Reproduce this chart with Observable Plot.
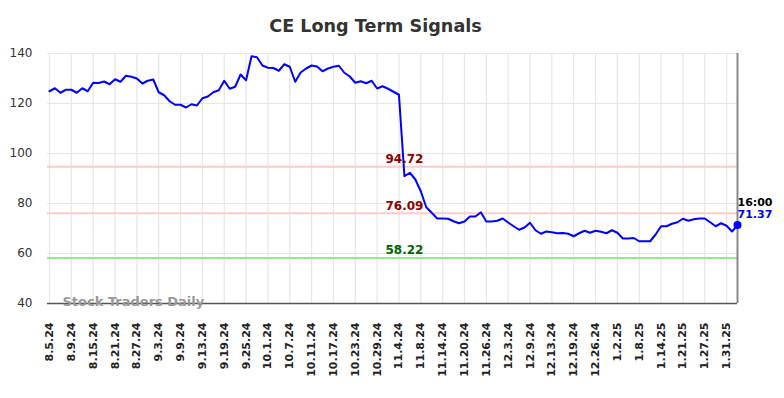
<!DOCTYPE html>
<html><head><meta charset="utf-8">
<script src="https://cdn.jsdelivr.net/npm/d3@7"></script>
<script src="https://cdn.jsdelivr.net/npm/@observablehq/plot@0.6"></script>
<style>body{margin:0;background:#fff;font-family:"DejaVu Sans",sans-serif;}</style>
</head><body><div id="chart"></div>
<script>
const title = "CE Long Term Signals";
const watermark = "Stock Traders Daily";
const lastTime = "16:00";
const lastLabel = "71.37";
const values = [
  124.9,126.1,124.3,125.5,125.5,124.3,126.1,124.9,128.3,128.2,128.8,127.7,129.7,128.7,131.1,130.7,130.0,128.0,129.1,129.6,
  124.5,123.3,120.9,119.5,119.5,118.4,119.7,119.2,122.1,122.8,124.5,125.3,129.1,125.9,126.7,131.6,129.3,138.9,138.5,
  135.2,134.3,134.2,133.1,135.7,134.7,128.7,132.4,134.0,135.2,134.8,132.9,134.0,134.7,135.1,132.3,130.8,128.3,128.9,128.1,
  129.1,126.0,126.9,125.9,124.7,123.5,
  90.9,92.3,89.6,84.9,78.5,76.3,74.0,74.0,73.9,72.9,72.1,72.8,74.8,74.8,76.5,72.8,72.8,73.1,74.0,72.4,70.9,69.5,70.4,72.3,69.3,
  67.9,68.8,68.5,68.1,68.2,67.9,66.9,68.1,69.1,68.3,69.1,68.7,68.1,69.3,68.3,66.0,66.0,66.2,64.9,64.9,64.9,67.6,70.9,70.9,
  71.9,72.5,73.9,73.1,73.7,74.0,74.0,72.5,70.9,72.1,71.1,68.8,71.37
];
const tickLabels = ["8.5.24","8.9.24","8.15.24","8.21.24","8.27.24","9.3.24","9.9.24","9.13.24","9.19.24","9.25.24",
  "10.1.24","10.7.24","10.11.24","10.17.24","10.23.24","10.29.24","11.4.24","11.8.24","11.14.24","11.20.24","11.26.24",
  "12.3.24","12.9.24","12.13.24","12.19.24","12.26.24","1.2.25","1.8.25","1.14.25","1.21.25","1.27.25","1.31.25"];
const yTicks = [40, 60, 80, 100, 120, 140];
const upperLevel = 94.72;
const middleLevel = 76.09;
const lowerLevel = 58.22;
const levelLabelAt = 65;

const data = values.map((v, i) => ({i, v}));
const n = values.length;
const xTicks = tickLabels.map((_, k) => k * 4);
const last = data[n - 1];
const red = "#8b0000", green = "#006400";

const chart = Plot.plot({
  width: 784, height: 398,
  marginLeft: 47, marginRight: 47, marginTop: 53, marginBottom: 95,
  style: {fontFamily: "DejaVu Sans, sans-serif", background: "#fff"},
  x: {type: "linear", domain: [0, n - 1], range: [49, 737], label: null},
  y: {domain: [40, 140], label: null},
  marks: [
    Plot.gridX(xTicks, {stroke: "#e6e6e6", strokeOpacity: 1, strokeWidth: 1.2}),
    Plot.gridY(yTicks, {stroke: "#e6e6e6", strokeOpacity: 1, strokeWidth: 1.2}),
    Plot.ruleY([upperLevel], {stroke: "#ffcccc", strokeWidth: 2}),
    Plot.ruleY([middleLevel], {stroke: "#ffcccc", strokeWidth: 2}),
    Plot.ruleY([lowerLevel], {stroke: "#90ee90", strokeWidth: 2}),
    Plot.ruleY([40], {stroke: "#555", strokeWidth: 1.5}),
    Plot.ruleX([n - 1], {stroke: "#888", strokeWidth: 2}),
    Plot.text([watermark], {frameAnchor: "bottom-left", dx: 15, dy: -2, text: d => d, textAnchor: "start", lineAnchor: "middle", fontSize: 13, fontWeight: "bold", fill: "#999"}),
    Plot.line(data, {x: "i", y: "v", stroke: "#0000ff", strokeWidth: 2}),
    Plot.dot([last], {x: "i", y: "v", r: 4, fill: "#0000ff"}),
    Plot.text([last], {x: "i", y: "v", text: () => lastTime, dy: -23, textAnchor: "start", lineAnchor: "middle", fontSize: 11, fontWeight: "bold", fill: "#000"}),
    Plot.text([last], {x: "i", y: "v", text: () => lastLabel, dy: -10.5, textAnchor: "start", lineAnchor: "middle", fontSize: 11, fontWeight: "bold", fill: "#0000ff"}),
    Plot.text([upperLevel], {x: levelLabelAt, y: d => d, text: d => d.toFixed(2), dy: -7.5, lineAnchor: "middle", fontSize: 12, fontWeight: "bold", fill: red}),
    Plot.text([middleLevel], {x: levelLabelAt, y: d => d, text: d => d.toFixed(2), dy: -7.5, lineAnchor: "middle", fontSize: 12, fontWeight: "bold", fill: red}),
    Plot.text([lowerLevel], {x: levelLabelAt, y: d => d, text: d => d.toFixed(2), dy: -7.5, lineAnchor: "middle", fontSize: 12, fontWeight: "bold", fill: green}),
    Plot.axisY(yTicks, {tickSize: 0, tickPadding: 15, fontSize: 12, fill: "#333", label: null}),
    Plot.axisX(xTicks, {tickFormat: d => tickLabels[d / 4], tickRotate: -90, tickSize: 0, tickPadding: 19, fontSize: 11, fontWeight: "bold", fill: "#222", label: null}),
    Plot.text([title], {frameAnchor: "top", dx: -17, dy: -27, text: d => d, lineAnchor: "middle", fontSize: 17.6, fontWeight: "bold", fill: "#333"})
  ]
});
document.getElementById("chart").appendChild(chart);
</script>
</body></html>
